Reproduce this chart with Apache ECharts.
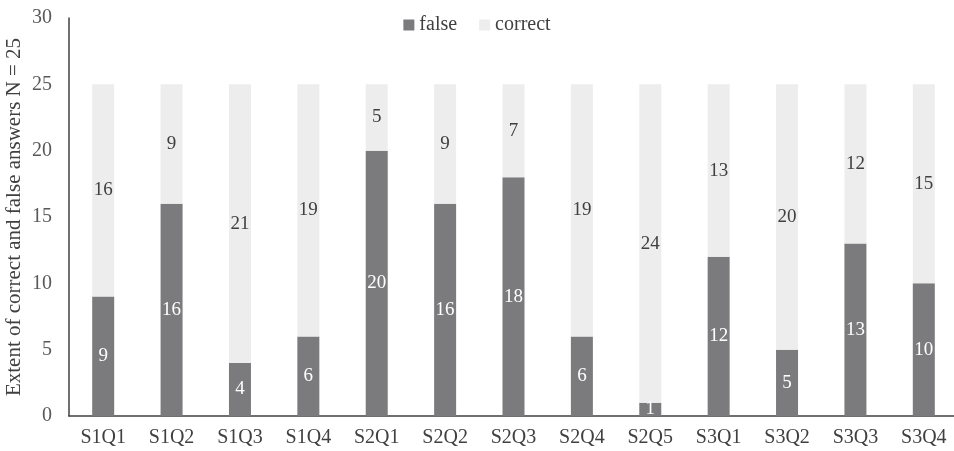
<!DOCTYPE html>
<html><head><meta charset="utf-8">
<script src="https://cdn.jsdelivr.net/npm/echarts@6/dist/echarts.min.js"></script>
<style>html,body{margin:0;padding:0;background:#fff}#c{width:954px;height:451px}</style>
</head><body><div id="c"></div>
<script>
const categories = ['S1Q1','S1Q2','S1Q3','S1Q4','S2Q1','S2Q2','S2Q3','S2Q4','S2Q5','S3Q1','S3Q2','S3Q3','S3Q4'];
const falseValues = [9,16,4,6,20,16,18,6,1,12,5,13,10];
const correctValues = [16,9,21,19,5,9,7,19,24,13,20,12,15];
const yTicks = [0,5,10,15,20,25,30];
const font = '"Liberation Serif", "Times New Roman", serif';
const chart = echarts.init(document.getElementById('c'));
chart.setOption({
  animation: false,
  textStyle: {fontFamily: font},
  legend: {
    top: 10, left: 'center', itemWidth: 11, itemHeight: 11, itemGap: 22,
    icon: 'rect',
    textStyle: {fontFamily: font, fontSize: 20, color: '#404040'},
    data: ['false','correct']
  },
  grid: {left: 69, right: -4, top: 18, bottom: 35, containLabel: false, outerBoundsMode: 'none'},
  xAxis: {
    type: 'category', data: categories,
    axisLine: {lineStyle: {color: '#404040', width: 1.5}},
    axisTick: {show: false},
    axisLabel: {fontFamily: font, fontSize: 20, color: '#404040', margin: 12}
  },
  yAxis: {
    type: 'value', min: yTicks[0], max: yTicks[yTicks.length-1], interval: 5,
    name: 'Extent of correct and false answers N = 25',
    nameLocation: 'middle', nameGap: 44, nameRotate: 90, nameMoveOverlap: false,
    nameTextStyle: {fontFamily: font, fontSize: 21, color: '#404040'},
    axisLine: {show: true, lineStyle: {color: '#404040', width: 1.5}},
    axisTick: {show: false},
    splitLine: {show: false},
    axisLabel: {fontFamily: font, fontSize: 20, color: '#595959', margin: 17}
  },
  series: [
    {
      name: 'false', type: 'bar', stack: 'a', data: falseValues, barWidth: 22,
      itemStyle: {color: '#7b7b7d'},
      label: {show: true, position: 'inside', color: '#ffffff', fontFamily: font, fontSize: 19}
    },
    {
      name: 'correct', type: 'bar', stack: 'a', data: correctValues, barWidth: 22,
      itemStyle: {color: '#ededed'},
      label: {show: true, position: 'inside', color: '#404040', fontFamily: font, fontSize: 19}
    }
  ]
});
</script></body></html>
